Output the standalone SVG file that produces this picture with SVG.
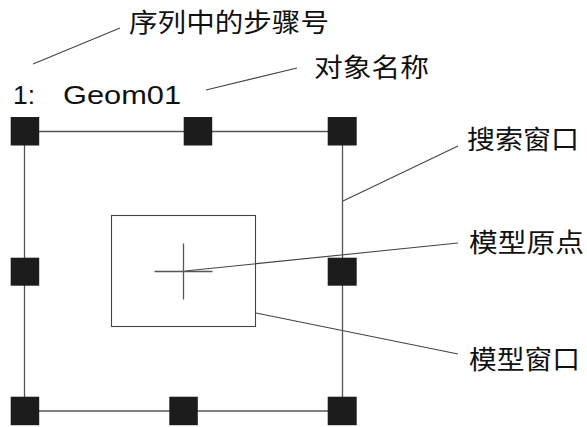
<svg xmlns="http://www.w3.org/2000/svg" width="587" height="427" viewBox="0 0 587 427">
<style>
.bg{fill:#fff}
.ln{stroke:#555;stroke-width:1.3;fill:none}
.thin{stroke:#444;stroke-width:1.1;fill:none}
.sq{fill:#1c1c1c}
.cjk{font-family:"Noto Sans CJK SC","Noto Sans",sans-serif;font-size:26px;fill:#111}
.lat{font-family:"Liberation Sans",Arial,sans-serif;font-size:26px;fill:#111}
</style>
<rect class="bg" width="587" height="427"/>
<g id="connectors">
<line class="thin" x1="33" y1="64" x2="120" y2="28"/>
<line class="thin" x1="206" y1="90" x2="297" y2="68"/>
<line class="thin" x1="343" y1="201" x2="458" y2="146"/>
<line class="thin" x1="185" y1="271" x2="458" y2="243"/>
<line class="thin" x1="256" y1="313" x2="458" y2="354"/>
</g>
<g id="search-window">
<line class="ln" x1="25" y1="131.5" x2="342" y2="131.5"/>
<line class="ln" x1="25" y1="411" x2="342" y2="411"/>
<line class="ln" x1="24.5" y1="131.5" x2="24.5" y2="411"/>
<line class="ln" x1="342.5" y1="131.5" x2="342.5" y2="411"/>
<rect class="sq" x="10.7" y="117" width="28.5" height="28.5"/>
<rect class="sq" x="183.7" y="117" width="28.5" height="28.5"/>
<rect class="sq" x="327.7" y="117" width="29" height="28.5"/>
<rect class="sq" x="10.7" y="257.7" width="28.5" height="28"/>
<rect class="sq" x="327.7" y="257.7" width="29" height="28"/>
<rect class="sq" x="10.7" y="396.7" width="28.5" height="28.5"/>
<rect class="sq" x="169.3" y="396.7" width="28.5" height="28.5"/>
<rect class="sq" x="327.7" y="396.7" width="29" height="28.5"/>
</g>
<g id="model-window">
<rect class="thin" x="111.5" y="215.5" width="144" height="111"/>
</g>
<g id="model-origin">
<line class="ln" x1="154.5" y1="271.5" x2="212.5" y2="271.5"/>
<line class="ln" x1="183.5" y1="243.5" x2="183.5" y2="299.5"/>
</g>
<g id="label-step">
<text class="cjk" x="129" y="32" textLength="200" lengthAdjust="spacingAndGlyphs">序列中的步骤号</text>
</g>
<g id="label-name">
<text class="lat" x="13" y="104"><tspan textLength="22" lengthAdjust="spacingAndGlyphs">1:</tspan><tspan x="63" textLength="118" lengthAdjust="spacingAndGlyphs">Geom01</tspan></text>
</g>
<g id="label-object">
<text class="cjk" x="314" y="77" textLength="115" lengthAdjust="spacingAndGlyphs">对象名称</text>
</g>
<g id="label-search">
<text class="cjk" x="467" y="149" textLength="112" lengthAdjust="spacingAndGlyphs">搜索窗口</text>
</g>
<g id="label-origin">
<text class="cjk" x="469" y="252" textLength="115" lengthAdjust="spacingAndGlyphs">模型原点</text>
</g>
<g id="label-model">
<text class="cjk" x="469" y="369" textLength="111" lengthAdjust="spacingAndGlyphs">模型窗口</text>
</g>
</svg>
